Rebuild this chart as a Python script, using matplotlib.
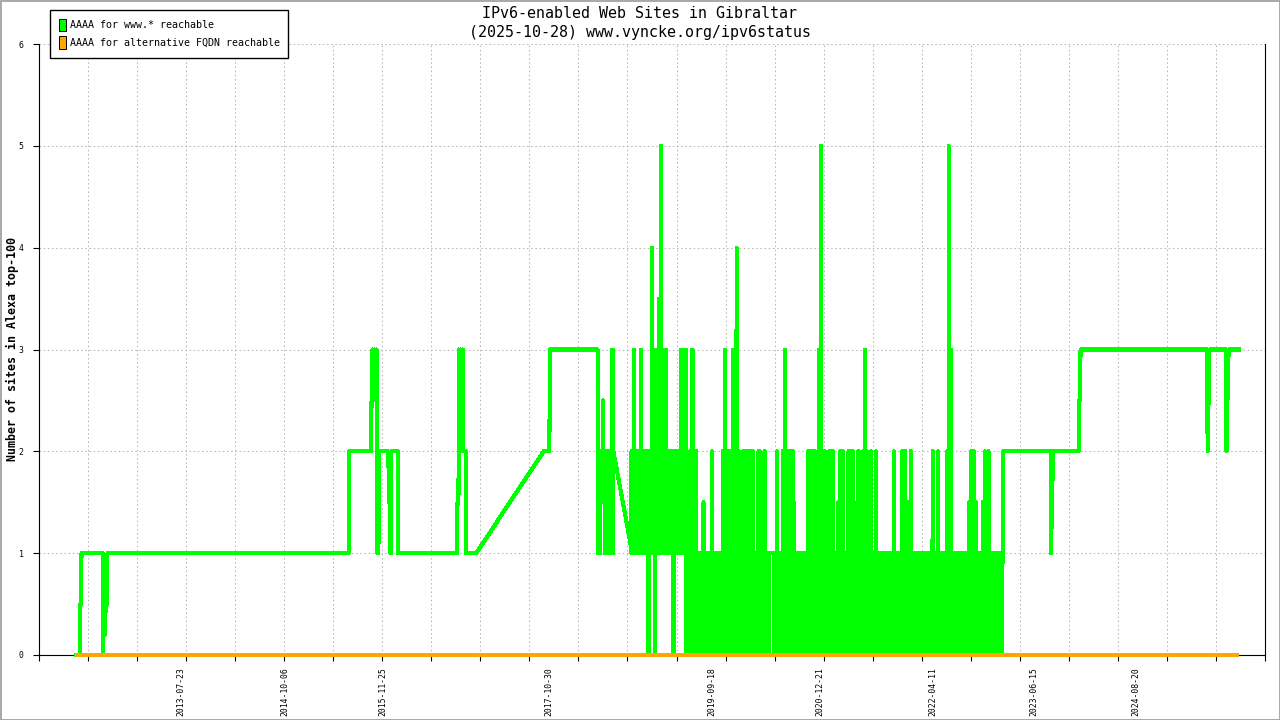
import numpy as np
import matplotlib
matplotlib.use('Agg')
import matplotlib.pyplot as plt
from matplotlib.patches import Patch, Rectangle

plt.rcParams['font.family'] = ['DejaVu Sans Mono']

# x values are days counted from t0
t0 = '2012-01-01'

# AAAA for www.* -- quiet stretches, one (day, value) pair per change
www_days_a = [125, 142, 144, 148, 150, 239, 241, 245, 250, 254, 258, 260,
              1281, 1283, 1376, 1378, 1382, 1386, 1390, 1394, 1399, 1402, 1405, 1407, 1411,
              1449, 1452, 1456, 1458, 1460, 1462, 1489, 1491,
              1740, 1742, 1746, 1748, 1752, 1756, 1760, 1764, 1766, 1777, 1779,
              1821, 2107, 2131, 2133, 2335]
www_vals_a = [0, 0, 0.5, 0.5, 1, 1, 0, 0.5, 0.2, 0.8, 0.5, 1,
              1, 2, 2, 2.5, 3, 2.5, 3, 2.5, 3, 1, 2, 1, 2,
              2, 1.5, 1.5, 1, 1, 2, 2, 1,
              1, 1.5, 1.5, 3, 2.5, 3, 2.5, 3, 2, 2, 1,
              1, 2, 2, 3, 3]

# noisy stretches: run bounds (days) and the low / high value reached in each run
dense1_bounds = [2336, 2354, 2361, 2389, 2402]
dense1_lo = [1, 1.5, 1, 1]
dense1_hi = [2, 2.5, 2, 3]

www_days_b = [2402, 2474]
www_vals_b = [2, 1.1]

dense2_bounds = [2478, 2483, 2495, 2499, 2505, 2512, 2524, 2541, 2558, 2570,
                 2572, 2582, 2592, 2598, 2608, 2631, 2650, 2664, 2681, 2703,
                 2714, 2720, 2725, 2728, 2744, 2760, 2780, 2787, 2792, 2812,
                 2826, 2862, 2867, 2880, 2887, 2894, 2901, 2918, 2929, 2939,
                 2946, 2998, 3010, 3028, 3035, 3049, 3066, 3076, 3087, 3101,
                 3116, 3121, 3133, 3141, 3144, 3151, 3158, 3165, 3169, 3221,
                 3261, 3270, 3275, 3285, 3303, 3309, 3317, 3328, 3337, 3351,
                 3355, 3381, 3391, 3412, 3419, 3423, 3430, 3447, 3454, 3460,
                 3472, 3478, 3485, 3499, 3506, 3520, 3584, 3595, 3599, 3609,
                 3616, 3645, 3654, 3666, 3747, 3761, 3769, 3781, 3811, 3815,
                 3828, 3835, 3905, 3912, 3920, 3934, 3941, 3962, 3969, 3979,
                 3983, 3997, 4004, 4011, 4039, 4047, 4051]
dense2_lo = [1, 1, 1, 1.5, 1, 1, 1, 0, 1, 1,
             0, 1, 1, 1, 1, 1, 0, 1, 1, 0,
             0, 0, 0, 0, 0, 0, 0, 1, 0, 0,
             0, 0, 0, 0, 1, 0, 0, 0, 0, 0,
             0, 0, 0, 0, 0, 0, 1, 0, 0, 0,
             0, 0, 1, 0, 1, 0, 1, 0, 0, 0,
             0, 0, 0, 0, 0, 0, 1, 0, 0, 0,
             0, 0, 0, 1, 0, 0, 0, 0, 0, 0,
             0, 0, 0, 0, 0, 0, 0, 0, 1, 0,
             0, 0, 0, 0, 0, 0, 0, 0, 0, 0,
             0, 0, 0, 1, 0, 0, 0, 0, 1, 0,
             0, 0, 1, 0, 1, 0]
dense2_hi = [2, 3, 2, 2, 2, 3, 2, 2, 4, 3,
             3, 3, 3.5, 5, 3, 2, 2, 2, 3, 3,
             1, 1.5, 2, 3, 2, 1, 1.5, 1, 1, 2,
             1, 2, 3, 2, 2, 2, 3, 4, 2, 1,
             2, 1, 2, 1, 2, 1, 1, 1, 2, 1,
             2, 3, 2, 2, 2, 2, 2, 1.5, 1, 2,
             1, 3, 5, 2, 1, 2, 2, 2, 1, 1.5,
             2, 1, 2, 2, 1.5, 1, 2, 1, 2, 3,
             2, 1, 2, 1, 2, 1, 2, 1, 1, 1,
             2, 1.5, 2, 1, 2, 1, 2, 1, 2, 5,
             3, 1, 1.5, 2, 2, 1.5, 1, 1.5, 2, 1,
             2, 1, 1, 1, 1, 1]

www_days_c = [4053, 4253, 4255, 4259, 4264, 4372, 4374, 4378, 4380,
              4916, 4918, 4922, 4926, 4996, 4998, 5002, 5007, 5049]
www_vals_c = [2, 2, 1, 1.5, 2, 2, 2.5, 2.5, 3,
              3, 2, 2.5, 3, 3, 2, 2.5, 3, 3]

# AAAA for alternative FQDN
fqdn_days = [121, 5049]
fqdn_vals = [0, 0]

label_dates = ['2013-07-23', '2014-10-06', '2015-11-25', '2017-10-30', '2019-09-18',
               '2020-12-21', '2022-04-11', '2023-06-15', '2024-08-20']

# day-by-day samples for a noisy stretch; edges shrunk by half the pen width
def runs_to_points(bounds, lo, hi, h=6):
    dd, vv = [], []
    n = len(lo)
    for i in range(n):
        a, b = bounds[i], bounds[i + 1]
        mid = (a + b) // 2
        for t in range(a, b):
            l, u = lo[i], hi[i]
            if not (b - a <= 2 * h and t == mid):
                if i > 0 and t - a < h:
                    l, u = max(l, lo[i - 1]), min(u, hi[i - 1])
                if i < n - 1 and b - 1 - t < h:
                    l, u = max(l, lo[i + 1]), min(u, hi[i + 1])
            if l > u:
                l, u = u, l
            dd += [t, t + 0.5]
            vv += [l, u]
    return dd, vv


d1, v1 = runs_to_points(dense1_bounds, dense1_lo, dense1_hi)
d2, v2 = runs_to_points(dense2_bounds, dense2_lo, dense2_hi)
www_days = www_days_a + d1 + www_days_b + d2 + www_days_c
www_vals = www_vals_a + v1 + www_vals_b + v2 + www_vals_c

label_days = [int((np.datetime64(s) - np.datetime64(t0)).astype(int)) for s in label_dates]

fig = plt.figure(figsize=(12.8, 7.2), dpi=100)
ax = fig.add_axes([39 / 1280, 65 / 720, 1226 / 1280, 611 / 720])

ax.plot(www_days, www_vals, color='#00ff00', lw=2.2, clip_on=False, antialiased=False, zorder=3)
ax.plot(fqdn_days, fqdn_vals, color='#ffa500', lw=2.6, clip_on=False, antialiased=False,
        solid_capstyle='butt', zorder=4)

xmin, xmax = -30, 5161
ax.set_xlim(xmin, xmax)
ax.set_ylim(0, 6)

ax.set_xticks(label_days)
ax.set_xticklabels(label_dates, rotation=90, fontsize=5.9)
ax.set_xticks(np.linspace(xmin, xmax, 26), minor=True)
ax.tick_params(axis='x', which='major', length=0, pad=9)
ax.tick_params(axis='x', which='minor', length=4, width=0.8, direction='out')
ax.set_yticks(range(7))
ax.set_yticklabels([str(i) for i in range(7)], fontsize=5.9)
ax.tick_params(axis='y', length=4, width=0.8, direction='out', pad=7)

ax.grid(True, which='minor', axis='x', color='#b8b8b8', lw=0.75, linestyle=(0, (1.5, 2.5)))
ax.grid(True, which='major', axis='y', color='#b8b8b8', lw=0.75, linestyle=(0, (1.5, 2.5)))
ax.grid(False, which='major', axis='x')
ax.set_axisbelow(True)

ax.spines['top'].set_visible(False)
for s in ['left', 'bottom', 'right']:
    ax.spines[s].set_linewidth(0.8)
    ax.spines[s].set_color('black')

fig.text(0.5, 1 - 13 / 720, 'IPv6-enabled Web Sites in Gibraltar', ha='center', va='center', fontsize=10.8)
fig.text(0.5, 1 - 32 / 720, '(2025-10-28) www.vyncke.org/ipv6status', ha='center', va='center', fontsize=10.8)
fig.text(12 / 1280, 1 - 349.5 / 720, 'Number of sites in Alexa top-100', rotation=90,
         ha='center', va='center', fontsize=8.4, fontweight='bold')

handles = [Patch(facecolor='#00ff00', edgecolor='black', lw=0.7, label='AAAA for www.* reachable'),
           Patch(facecolor='#ffa500', edgecolor='black', lw=0.7, label='AAAA for alternative FQDN reachable')]
leg = fig.legend(handles=handles, loc='upper left', bbox_to_anchor=(50 / 1280, 1 - 10 / 720),
                 bbox_transform=fig.transFigure, fancybox=False, edgecolor='black', framealpha=1,
                 fontsize=7.2, handlelength=0.7, handleheight=1.6, handletextpad=0.4,
                 labelspacing=0.5, borderpad=0.85, borderaxespad=0)
leg.get_frame().set_linewidth(1.0)

fig.patches.append(Rectangle((0.5 / 1280, 0.5 / 720), 1 - 1 / 1280, 1 - 1 / 720, fill=False,
                             edgecolor='#9a9a9a', lw=1.2, transform=fig.transFigure, figure=fig))

fig.savefig('out.png', dpi=100)
